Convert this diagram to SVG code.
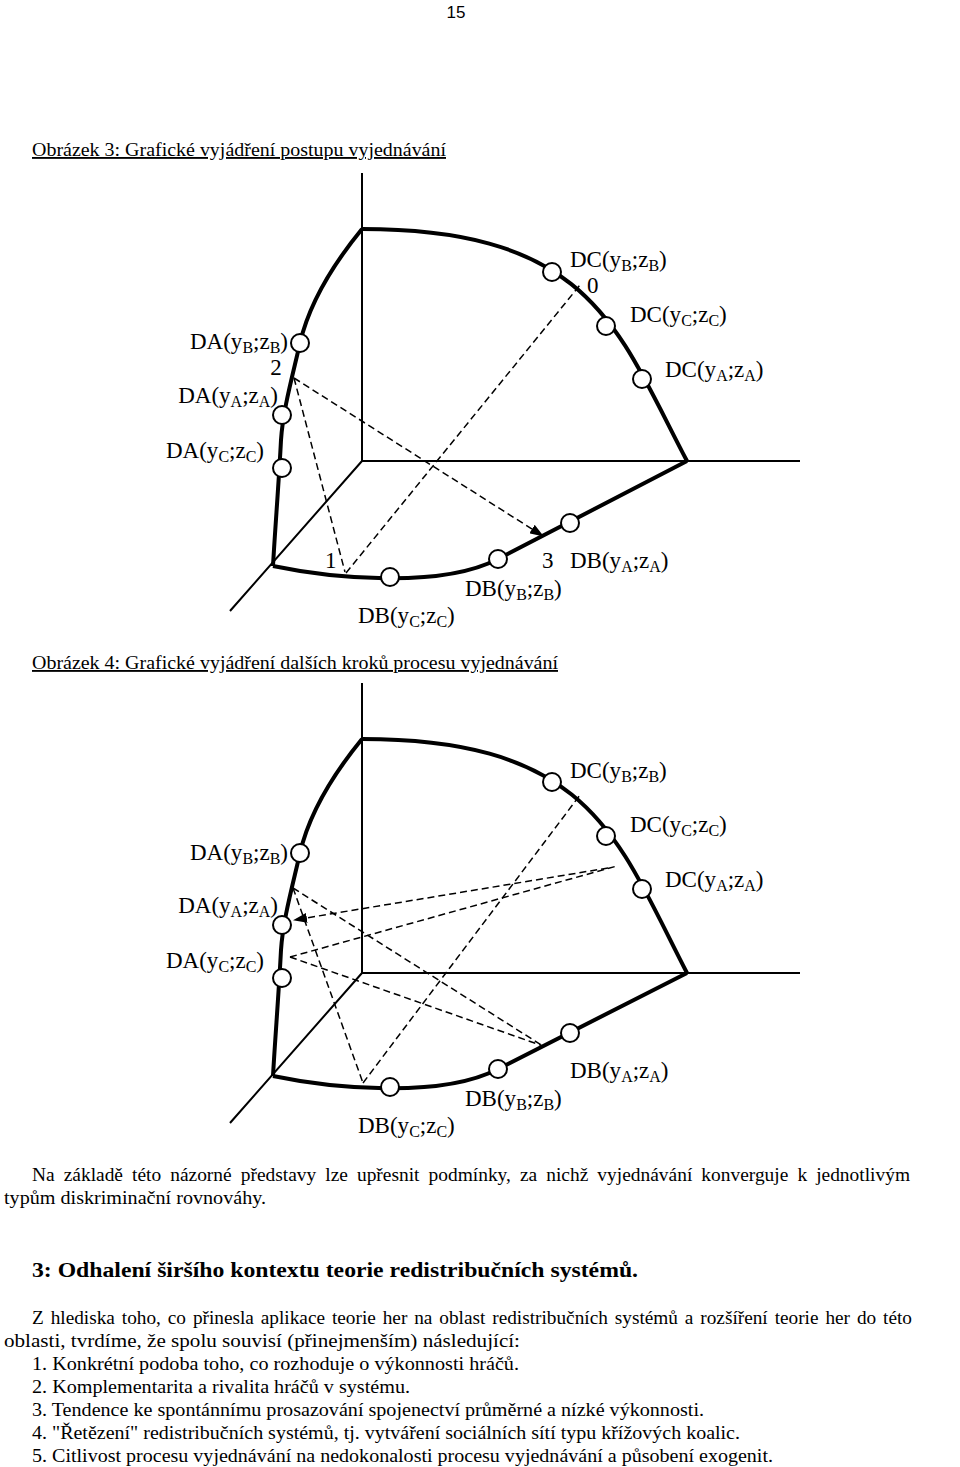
<svg xmlns="http://www.w3.org/2000/svg" width="960" height="1467" viewBox="0 0 960 1467">
<style>
.axis{stroke:#000;stroke-width:2;fill:none}
.thick{stroke:#000;stroke-width:4;fill:none;stroke-linejoin:round}
.dash{stroke:#000;stroke-width:1.5;fill:none;stroke-dasharray:7 4}
.pt{fill:#fff;stroke:#000;stroke-width:2}
.lbl{font-family:"Liberation Serif","Times New Roman",serif;font-size:23px;fill:#000}
.sub{font-size:16px}
.cap{font-family:"Liberation Serif","Times New Roman",serif;font-size:18.5px;fill:#000;text-decoration:underline}
.body{font-family:"Liberation Serif","Times New Roman",serif;font-size:18.5px;fill:#000}
.head{font-family:"Liberation Serif","Times New Roman",serif;font-size:20.5px;font-weight:bold;fill:#000}
.pg{font-family:"Liberation Sans",Arial,sans-serif;font-size:17px;fill:#000}
</style>
<defs>
<marker id="arr" markerWidth="14" markerHeight="10" refX="13" refY="5" orient="auto" markerUnits="userSpaceOnUse">
<path d="M0,0 L14,5 L0,10 Z" fill="#000"/>
</marker>
</defs>
<rect width="960" height="1467" fill="#fff"/>

<text class="pg" x="456" y="18" text-anchor="middle">15</text>
<text class="cap" x="32" y="156" textLength="414" lengthAdjust="spacingAndGlyphs">Obrázek 3: Grafické vyjádření postupu vyjednávání</text>

<!-- Figure 3 frame -->
<g id="fig3-frame">
<path class="axis" d="M362,173 V461 H800 M362,461 L230,611"/>
<path class="thick" d="M362,229 C592,229 618,330 687,461"/>
<path class="thick" d="M362,229 C335,262 310,300 300,343 C292,378 283,410 281,440 C279,480 275,530 273,566"/>
<path class="thick" d="M273,566 C330,578 440,589 498,559 L687,461"/>
</g>

<g id="fig3-connectors">
<path class="dash" d="M294,378 L345,572"/>
<path class="dash" d="M346,573 L580,285"/>
<path class="dash" d="M294,378 L543,536" marker-end="url(#arr)"/>
</g>

<g id="fig3-DA-yBzB"><circle class="pt" cx="300" cy="343" r="9"/><text class="lbl" x="288" y="349" text-anchor="end">DA(y<tspan class="sub" dy="4">B</tspan><tspan dy="-4">;z</tspan><tspan class="sub" dy="4">B</tspan><tspan dy="-4">)</tspan></text></g>
<g id="fig3-p2"><text class="lbl" x="276" y="375" text-anchor="middle">2</text></g>
<g id="fig3-DA-yAzA"><circle class="pt" cx="282" cy="415" r="9"/><text class="lbl" x="278" y="403" text-anchor="end">DA(y<tspan class="sub" dy="4">A</tspan><tspan dy="-4">;z</tspan><tspan class="sub" dy="4">A</tspan><tspan dy="-4">)</tspan></text></g>
<g id="fig3-DA-yCzC"><circle class="pt" cx="282" cy="468" r="9"/><text class="lbl" x="264" y="458" text-anchor="end">DA(y<tspan class="sub" dy="4">C</tspan><tspan dy="-4">;z</tspan><tspan class="sub" dy="4">C</tspan><tspan dy="-4">)</tspan></text></g>
<g id="fig3-DC-yBzB"><circle class="pt" cx="552" cy="272" r="9"/><text class="lbl" x="570" y="267">DC(y<tspan class="sub" dy="4">B</tspan><tspan dy="-4">;z</tspan><tspan class="sub" dy="4">B</tspan><tspan dy="-4">)</tspan></text></g>
<g id="fig3-p0"><text class="lbl" x="587" y="293">0</text></g>
<g id="fig3-DC-yCzC"><circle class="pt" cx="606" cy="326" r="9"/><text class="lbl" x="630" y="322">DC(y<tspan class="sub" dy="4">C</tspan><tspan dy="-4">;z</tspan><tspan class="sub" dy="4">C</tspan><tspan dy="-4">)</tspan></text></g>
<g id="fig3-DC-yAzA"><circle class="pt" cx="642" cy="379" r="9"/><text class="lbl" x="665" y="377">DC(y<tspan class="sub" dy="4">A</tspan><tspan dy="-4">;z</tspan><tspan class="sub" dy="4">A</tspan><tspan dy="-4">)</tspan></text></g>
<g id="fig3-p1"><text class="lbl" x="325" y="568">1</text></g>
<g id="fig3-p3"><text class="lbl" x="542" y="568">3</text></g>
<g id="fig3-DB-yAzA"><circle class="pt" cx="570" cy="523" r="9"/><text class="lbl" x="570" y="568">DB(y<tspan class="sub" dy="4">A</tspan><tspan dy="-4">;z</tspan><tspan class="sub" dy="4">A</tspan><tspan dy="-4">)</tspan></text></g>
<g id="fig3-DB-yBzB"><circle class="pt" cx="498" cy="559" r="9"/><text class="lbl" x="465" y="596">DB(y<tspan class="sub" dy="4">B</tspan><tspan dy="-4">;z</tspan><tspan class="sub" dy="4">B</tspan><tspan dy="-4">)</tspan></text></g>
<g id="fig3-DB-yCzC"><circle class="pt" cx="390" cy="577" r="9"/><text class="lbl" x="358" y="623">DB(y<tspan class="sub" dy="4">C</tspan><tspan dy="-4">;z</tspan><tspan class="sub" dy="4">C</tspan><tspan dy="-4">)</tspan></text></g>

<text class="cap" x="32" y="669" textLength="526" lengthAdjust="spacingAndGlyphs">Obrázek 4: Grafické vyjádření dalších kroků procesu vyjednávání</text>

<!-- Figure 4 frame -->
<g id="fig4-frame">
<path class="axis" d="M362,683 V973 H800 M362,973 L230,1123"/>
<path class="thick" d="M362,739 C592,739 618,840 687,973"/>
<path class="thick" d="M362,739 C335,772 310,810 300,853 C292,888 283,920 281,950 C279,990 275,1040 273,1076"/>
<path class="thick" d="M273,1076 C330,1088 440,1099 498,1069 L687,973"/>
</g>

<g id="fig4-connectors">
<path class="dash" d="M293,888 L363,1083"/>
<path class="dash" d="M363,1083 L580,795"/>
<path class="dash" d="M293,888 L543,1046"/>
<path class="dash" d="M290,957 L543,1046"/>
<path class="dash" d="M290,957 L617,866"/>
<path class="dash" d="M608,868 L294,920" marker-end="url(#arr)"/>
</g>

<g id="fig4-DA-yBzB"><circle class="pt" cx="300" cy="853" r="9"/><text class="lbl" x="288" y="860" text-anchor="end">DA(y<tspan class="sub" dy="4">B</tspan><tspan dy="-4">;z</tspan><tspan class="sub" dy="4">B</tspan><tspan dy="-4">)</tspan></text></g>
<g id="fig4-DA-yAzA"><circle class="pt" cx="282" cy="925" r="9"/><text class="lbl" x="278" y="913" text-anchor="end">DA(y<tspan class="sub" dy="4">A</tspan><tspan dy="-4">;z</tspan><tspan class="sub" dy="4">A</tspan><tspan dy="-4">)</tspan></text></g>
<g id="fig4-DA-yCzC"><circle class="pt" cx="282" cy="978" r="9"/><text class="lbl" x="264" y="968" text-anchor="end">DA(y<tspan class="sub" dy="4">C</tspan><tspan dy="-4">;z</tspan><tspan class="sub" dy="4">C</tspan><tspan dy="-4">)</tspan></text></g>
<g id="fig4-DC-yBzB"><circle class="pt" cx="552" cy="782" r="9"/><text class="lbl" x="570" y="778">DC(y<tspan class="sub" dy="4">B</tspan><tspan dy="-4">;z</tspan><tspan class="sub" dy="4">B</tspan><tspan dy="-4">)</tspan></text></g>
<g id="fig4-DC-yCzC"><circle class="pt" cx="606" cy="836" r="9"/><text class="lbl" x="630" y="832">DC(y<tspan class="sub" dy="4">C</tspan><tspan dy="-4">;z</tspan><tspan class="sub" dy="4">C</tspan><tspan dy="-4">)</tspan></text></g>
<g id="fig4-DC-yAzA"><circle class="pt" cx="642" cy="889" r="9"/><text class="lbl" x="665" y="887">DC(y<tspan class="sub" dy="4">A</tspan><tspan dy="-4">;z</tspan><tspan class="sub" dy="4">A</tspan><tspan dy="-4">)</tspan></text></g>
<g id="fig4-DB-yAzA"><circle class="pt" cx="570" cy="1033" r="9"/><text class="lbl" x="570" y="1078">DB(y<tspan class="sub" dy="4">A</tspan><tspan dy="-4">;z</tspan><tspan class="sub" dy="4">A</tspan><tspan dy="-4">)</tspan></text></g>
<g id="fig4-DB-yBzB"><circle class="pt" cx="498" cy="1069" r="9"/><text class="lbl" x="465" y="1106">DB(y<tspan class="sub" dy="4">B</tspan><tspan dy="-4">;z</tspan><tspan class="sub" dy="4">B</tspan><tspan dy="-4">)</tspan></text></g>
<g id="fig4-DB-yCzC"><circle class="pt" cx="390" cy="1087" r="9"/><text class="lbl" x="358" y="1133">DB(y<tspan class="sub" dy="4">C</tspan><tspan dy="-4">;z</tspan><tspan class="sub" dy="4">C</tspan><tspan dy="-4">)</tspan></text></g>

<!-- Body text -->
<text class="body" x="32" y="1181" word-spacing="4" textLength="878" lengthAdjust="spacingAndGlyphs">Na základě této názorné představy lze upřesnit podmínky, za nichž vyjednávání konverguje k jednotlivým</text>
<text class="body" x="4" y="1204" textLength="262" lengthAdjust="spacingAndGlyphs">typům diskriminační rovnováhy.</text>
<text class="head" x="32" y="1277" textLength="606" lengthAdjust="spacingAndGlyphs">3: Odhalení širšího kontextu teorie redistribučních systémů.</text>
<text class="body" x="32" y="1324" word-spacing="2" textLength="880" lengthAdjust="spacingAndGlyphs">Z hlediska toho, co přinesla aplikace teorie her na oblast redistribučních systémů a rozšíření teorie her do této</text>
<text class="body" x="4" y="1347" textLength="516" lengthAdjust="spacingAndGlyphs">oblasti, tvrdíme, že spolu souvisí (přinejmenším) následující:</text>
<text class="body" x="32" y="1370" textLength="487" lengthAdjust="spacingAndGlyphs">1. Konkrétní podoba toho, co rozhoduje o výkonnosti hráčů.</text>
<text class="body" x="32" y="1393" textLength="378" lengthAdjust="spacingAndGlyphs">2. Komplementarita a rivalita hráčů v systému.</text>
<text class="body" x="32" y="1416" textLength="672" lengthAdjust="spacingAndGlyphs">3. Tendence ke spontánnímu prosazování spojenectví průměrné a nízké výkonnosti.</text>
<text class="body" x="32" y="1439" textLength="708" lengthAdjust="spacingAndGlyphs">4. "Řetězení" redistribučních systémů, tj. vytváření sociálních sítí typu křížových koalic.</text>
<text class="body" x="32" y="1462" textLength="741" lengthAdjust="spacingAndGlyphs">5. Citlivost procesu vyjednávání na nedokonalosti procesu vyjednávání a působení exogenit.</text>
</svg>
